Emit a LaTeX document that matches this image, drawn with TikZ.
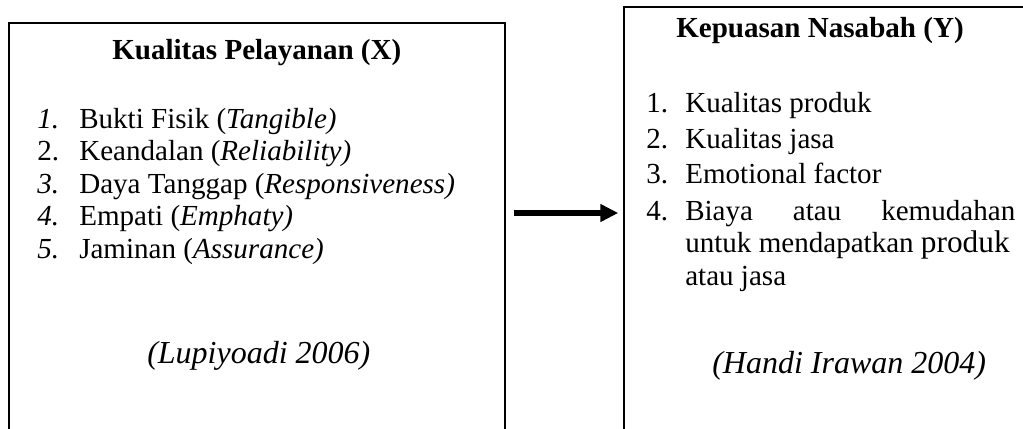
\documentclass[tikz,border=0pt]{standalone}
\usepackage{fontspec}
\setmainfont{Liberation Serif}
\usetikzlibrary{arrows.meta, positioning, fit}
\tikzset{%
	box/.style={draw, rectangle, line width=1.1pt, inner sep=0pt},
	txt/.style={anchor=base west, inner sep=0pt, font=\fontsize{21.8}{26}\selectfont},
	judul/.style={txt, font=\fontsize{21.8}{26}\selectfont\bfseries},
	sumber/.style={txt, font=\fontsize{24}{28}\selectfont\itshape},
	panah/.style={-{Triangle[length=13.5pt, width=12.75pt]}, line width=4.5pt}
}

\begin{document}
\begin{tikzpicture}[x=0.75pt, y=-0.75pt]
	\useasboundingbox (0,0) rectangle (1023,428);
	\clip (0,0) rectangle (1023,428);

	\coordinate (k1) at (9,23);
	\coordinate (k2) at (505,470);
	\coordinate (p1) at (624,7);
	\coordinate (p2) at (1060,470);
	\node [box, fit=(k1) (k2)] (kualitas) {};
	\node [box, fit=(p1) (p2)] (kepuasan) {};

	%left
	\node [judul] (jx) at (112,60) {Kualitas Pelayanan (X)};
	\node [txt] (nx1) at (37,128) {\textit{1.}};
	\node [txt] (nx2) at (37,160) {2.};
	\node [txt] (nx3) at (37,193) {\textit{3.}};
	\node [txt] (nx4) at (37,225) {\textit{4.}};
	\node [txt] (nx5) at (37,258) {\textit{5.}};
	\node [txt] (x1) at (79,128) {Bukti Fisik (\textit{Tangible)}};
	\node [txt] (x2) at (79,160) {Keandalan (\textit{Reliability)}};
	\node [txt] (x3) at (79,193) {Daya Tanggap (\textit{Responsiveness)}};
	\node [txt] (x4) at (79,225) {Empati (\textit{Emphaty)}};
	\node [txt] (x5) at (79,258) {Jaminan (\textit{Assurance)}};
	\node [sumber] (sx) at (147,363) {(Lupiyoadi 2006)};

	%right
	\node [judul] (jy) at (676,38) {Kepuasan Nasabah (Y)};
	\node [txt] (ny1) at (646,112) {1.};
	\node [txt] (ny2) at (646,148) {2.};
	\node [txt] (ny3) at (646,183) {3.};
	\node [txt] (ny4) at (646,220) {4.};
	\node [txt] (y1) at (685,112) {Kualitas produk};
	\node [txt] (y2) at (685,148) {Kualitas jasa};
	\node [txt] (y3) at (685,183) {Emotional factor};
	\node [txt] (y4) at (685,220) {\makebox[247.5pt][s]{Biaya atau kemudahan}};
	\node [txt] (y4b) at (685,252) {untuk mendapatkan {\fontsize{23.5}{28}\selectfont produk}};
	\node [txt] (y4c) at (685,285) {atau jasa};
	\node [sumber] (sy) at (712,373) {(Handi Irawan 2004)};

	\coordinate (tengah) at (0,213);
	\draw [panah, shorten <=6pt, shorten >=3.75pt] (kualitas.east |- tengah) -- (kepuasan.west |- tengah);
\end{tikzpicture}
\end{document}
